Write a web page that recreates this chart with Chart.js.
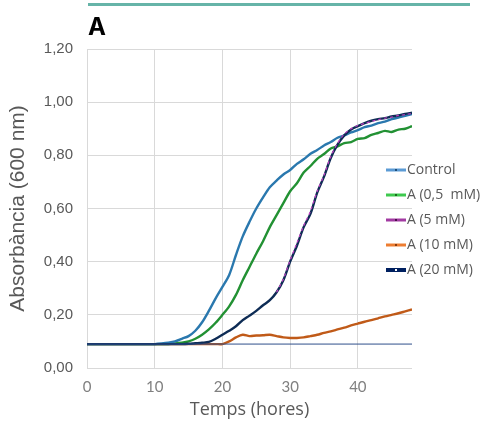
<!DOCTYPE html>
<html><head><meta charset="utf-8">
<script src="https://cdn.jsdelivr.net/npm/chart.js@4.4.0/dist/chart.umd.min.js"></script>
<style>html,body{margin:0;padding:0;background:#fff;}#wrap{width:484px;height:421px;position:relative;}</style>
</head><body><div id="wrap"><canvas id="c" width="484" height="421"></canvas></div>
<script>
const hours = [0,1,2,3,4,5,6,7,8,9,10,11,12,13,14,15,16,17,18,19,20,21,22,23,24,25,26,27,28,29,30,31,32,33,34,35,36,37,38,39,40,41,42,43,44,45,46,47,48];
const seriesLabels = ['Control','A (0,5  mM)','A (5 mM)','A (10 mM)','A (20 mM)'];
const control = [0.09,0.09,0.09,0.09,0.09,0.09,0.09,0.09,0.09,0.09,0.09,0.092,0.095,0.10,0.11,0.12,0.14,0.172,0.215,0.262,0.305,0.35,0.425,0.495,0.55,0.60,0.642,0.68,0.705,0.728,0.745,0.768,0.785,0.806,0.82,0.837,0.85,0.866,0.875,0.886,0.895,0.906,0.912,0.921,0.927,0.936,0.942,0.949,0.955];
const a05 = [0.09,0.09,0.09,0.09,0.09,0.09,0.09,0.09,0.09,0.09,0.09,0.09,0.09,0.092,0.095,0.10,0.11,0.125,0.145,0.17,0.20,0.232,0.275,0.33,0.38,0.43,0.477,0.53,0.575,0.62,0.665,0.695,0.735,0.76,0.787,0.805,0.826,0.834,0.846,0.85,0.862,0.865,0.877,0.884,0.892,0.888,0.897,0.90,0.91];
const a5 = [null,null,null,null,null,null,null,null,null,null,null,null,null,null,null,null,null,null,null,null,null,null,null,null,null,null,null,null,0.285,0.335,0.405,0.47,0.535,0.59,0.665,0.725,0.795,0.845,0.88,0.90,0.912,0.92,0.928,0.934,0.94,0.944,0.95,0.953,0.958];
const a10 = [0.09,0.09,0.09,0.09,0.09,0.09,0.09,0.09,0.09,0.09,0.09,0.09,0.09,0.09,0.09,0.09,0.09,0.09,0.09,0.09,0.09,0.10,0.115,0.125,0.12,0.122,0.123,0.125,0.12,0.115,0.113,0.113,0.115,0.12,0.125,0.132,0.138,0.145,0.152,0.16,0.167,0.174,0.18,0.187,0.194,0.20,0.206,0.213,0.22];
const a20 = [0.09,0.09,0.09,0.09,0.09,0.09,0.09,0.09,0.09,0.09,0.09,0.09,0.09,0.09,0.09,0.091,0.093,0.095,0.098,0.11,0.125,0.14,0.157,0.18,0.197,0.215,0.236,0.255,0.285,0.33,0.40,0.46,0.53,0.58,0.66,0.72,0.79,0.84,0.875,0.897,0.91,0.921,0.93,0.936,0.94,0.946,0.95,0.956,0.96];
const baselineHours = [0,48];
const baselineValues = [0.09,0.09];
const yTicks = [0,0.2,0.4,0.6,0.8,1.0,1.2];
const xTicks = [0,10,20,30,40];

const lineColors = ['#2a78ae','#229133','#c040c0','#c05a18','#0e2c55'];
const legendColors = ['#5b9bd5','#3ec94e','#a23aa2','#ed7d31','#002060'];
const legendDot = ['#1f4e79','#1a6a1a','#4a104a','#8a3a0a','#ffffff'];
const drawOrder = [0,1,-2,3,-1];

function pts(xs, ys){ return xs.map((x,i)=>({x:x,y:ys[i]})); }
const allSeries = [control,a05,a5,a10,a20];
const datasets = allSeries.map((s,i)=>({
  label: seriesLabels[i], data: pts(hours,s), borderColor: lineColors[i],
  borderWidth: i===2?1.2:2.4, borderDash: i===2?[3,3]:[], pointRadius:0, tension:0.3, fill:false,
  spanGaps:false, order: drawOrder[i]
}));
datasets.push({label:'_base', data: pts(baselineHours, baselineValues), borderColor:'#2f4f8a', borderWidth:1, pointRadius:0, fill:false, order:-3});

const deco = {
  id:'deco',
  afterDraw(chart){
    const ctx = chart.ctx;
    ctx.save();
    ctx.fillStyle = '#66b4a8';
    ctx.fillRect(88,3,382,3);
    ctx.fillStyle = '#000';
    ctx.font = 'bold 24px Inter, "DejaVu Sans", sans-serif';
    ctx.textBaseline = 'alphabetic';
    ctx.textAlign = 'left';
    ctx.fillText('A', 88, 35);
    ctx.font = '14px "Open Sans", Lato, sans-serif';
    ctx.textBaseline = 'middle';
    for (let i=0;i<5;i++){
      const y = 170 + i*25;
      ctx.strokeStyle = legendColors[i];
      ctx.lineWidth = i===4?4:3;
      ctx.beginPath(); ctx.moveTo(386,y); ctx.lineTo(406,y); ctx.stroke();
      ctx.fillStyle = legendDot[i];
      ctx.fillRect(395,y-1,2,2);
      ctx.fillStyle = '#595959';
      ctx.fillText(chart.data.datasets[i].label, 407, y);
    }
    ctx.restore();
  }
};

new Chart(document.getElementById('c'), {
  type:'line',
  data:{datasets:datasets},
  options:{
    responsive:false, animation:false,
    layout:{padding:{top:49,right:72,left:0,bottom:0}},
    plugins:{legend:{display:false}, tooltip:{enabled:false}},
    scales:{
      x:{type:'linear', min:0, max:48,
        afterBuildTicks(s){ s.ticks = xTicks.map(v=>({value:v})); },
        afterFit(s){ s.height = 53; },
        grid:{color:'#d9d9d9', drawTicks:false},
        border:{display:false},
        ticks:{padding:10, color:'#808080', font:{size:15, family:'Lato, "Open Sans", sans-serif'}, maxRotation:0},
        title:{display:true, text:'Temps (hores)', color:'#595959', font:{size:18, family:'"Open Sans", Lato, sans-serif'}, padding:{top:0,bottom:0}}
      },
      y:{min:0, max:1.2,
        afterBuildTicks(s){ s.ticks = yTicks.map(v=>({value:v})); },
        afterFit(s){ s.width = 87; },
        grid:{color:'#d9d9d9', drawTicks:false},
        border:{display:true, color:'#d9d9d9'},
        ticks:{padding:14, color:'#595959', font:{size:15, family:'"Liberation Sans", Arial, sans-serif'}, callback:(v)=>Number(v).toFixed(2).replace('.',',')},
        title:{display:true, text:'Absorbància (600 nm)', color:'#595959', font:{size:21, family:'"Liberation Sans", Arial, sans-serif'}, padding:{top:6,bottom:0}}
      }
    }
  },
  plugins:[deco]
});
</script></body></html>
